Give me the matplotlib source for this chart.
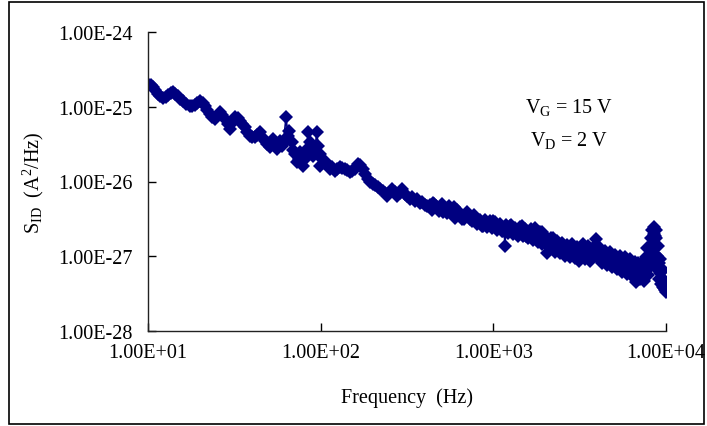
import matplotlib
matplotlib.use("Agg")
import matplotlib.pyplot as plt
from matplotlib.patches import Rectangle
from matplotlib.ticker import FixedLocator, NullLocator

plt.rcParams['font.family'] = ['Liberation Serif', 'DejaVu Serif']
plt.rcParams['mathtext.fontset'] = 'custom'
plt.rcParams['mathtext.rm'] = 'Liberation Serif'
plt.rcParams['mathtext.it'] = 'Liberation Serif:italic'

# ---- data: frequency (Hz) and S_ID (units of 1e-27 A^2/Hz) ----
freq_low = [10.0, 10.7, 11.4, 12.2, 13.1, 14.0, 14.9, 16.0, 17.5, 18.7,
            20.0, 21.4, 22.8, 24.4, 26.1, 27.9, 29.8, 31.9, 34.1, 36.4,
            38.9, 41.6, 44.5, 47.5, 50.8, 53.0, 55.8, 58.0, 59.6, 63.0,
            64.6, 65.5, 68.2, 69.2, 72.9, 75.9, 78.9, 83.3, 84.4, 86.6,
            90.2, 95.1, 96.5, 99.0, 99.5, 105.8, 113, 121, 129, 138,
            148, 158, 164, 175, 187, 200, 214, 229, 242, 259,
            277, 296, 316, 338, 361, 386, 413]
sid_low = [201, 184, 148, 131, 144, 157, 139, 119, 102, 106,
           119, 102, 80, 69, 85, 69, 50, 73, 64, 54,
           41, 39, 46, 35, 29, 37, 27, 35, 30, 73,
           41, 47, 34, 26, 18, 25, 16, 27, 46, 34,
           22, 46, 30, 23, 16, 19, 14.7, 13.8, 15.6, 14.7,
           13.4, 14.7, 17.1, 14.7, 10.8, 9.3, 8.4, 7.5, 6.4, 7.9,
           6.4, 7.9, 6.4, 6.2, 5.8, 5.3, 4.7]

freq_low2 = [10.34, 11.05, 11.81, 12.63, 13.5, 14.42, 15.42, 16.7, 18.1, 19.3,
             20.7, 22.1, 23.6, 25.2, 27.0, 28.9, 30.8, 33.0, 35.2, 37.6,
             40.2, 43.0, 46.0, 49.1, 51.9, 54.4, 56.9, 60.8, 71.0, 74.9,
             81.0, 88.1, 92.5, 102, 109, 117, 124, 133, 142, 152,
             169, 180, 193, 207, 221, 236, 252, 270, 287, 306,
             328, 352, 376, 402]
sid_low2 = [195, 167, 139, 135, 152, 148, 127, 109, 102, 112,
            112, 90.6, 73, 75, 77.6, 58.7, 60.6, 70.6, 58.7, 46,
            39, 41.9, 39, 31.8, 32.7, 31.8, 30, 31.8, 23, 20,
            20, 27, 27, 20, 17.1, 15.6, 14.7, 15.1, 14.2, 13.8,
            16.4, 12.6, 9.85, 8.9, 7.9, 7.0, 7.2, 7.2, 7.0, 6.8,
            5.8, 5.46, 5.14, 4.86]

freq_high = [430, 441, 453, 472, 485, 504, 518, 539, 554, 576,
             592, 600, 616, 641, 659, 686, 704, 733, 752, 783,
             804, 837, 860, 895, 919, 956, 982, 1022, 1050, 1093,
             1122, 1168, 1184, 1216, 1249, 1300, 1335, 1389, 1427, 1485,
             1526, 1588, 1631, 1697, 1743, 1814, 1863, 1914, 1991, 2046,
             2073, 2129, 2216, 2276, 2338, 2433, 2499, 2600, 2671, 2780,
             2855, 2972, 3052, 3135, 3177, 3306, 3396, 3534, 3630, 3778,
             3932, 4037, 4147, 4259, 4433, 4553, 4738, 4867, 5066, 5203,
             5414, 5561, 5788, 5944, 6187, 6353, 6612, 6701, 6882, 7068,
             7260, 7456, 7659, 7762, 7865, 8079, 8187, 8298, 8410, 8523,
             8637, 8750, 8870, 8988, 9109, 9231, 9355, 9480, 9607, 9736,
             9867, 10000]
sid_high = [4.86, 4.18, 5.0, 4.44, 4.06, 5.0, 4.31, 3.82, 4.72, 4.06,
            3.60, 3.29, 4.18, 3.60, 3.19, 3.49, 3.94, 3.19, 2.92, 3.39,
            2.67, 3.10, 2.51, 3.01, 2.44, 2.92, 2.36, 2.83, 2.23, 2.67,
            2.16, 1.38, 2.59, 2.03, 2.51, 1.97, 2.36, 1.86, 2.44, 1.86,
            2.29, 1.75, 2.16, 1.65, 2.36, 1.55, 2.10, 1.46, 1.86, 1.09,
            1.55, 1.30, 1.75, 1.15, 1.60, 1.09, 1.51, 1.02, 1.42, 0.963,
            1.46, 0.935, 1.34, 0.855, 1.22, 1.46, 0.907, 1.38, 0.855, 1.30,
            1.70, 1.09, 1.30, 0.806, 1.18, 0.759, 1.15, 0.715, 1.05, 0.674,
            1.02, 0.616, 0.963, 0.581, 0.907, 0.548, 0.831, 0.458, 0.806, 0.500,
            0.759, 0.472, 0.907, 1.30, 0.564, 1.02, 1.75, 2.23, 0.907, 2.44,
            1.30, 2.23, 0.674, 1.38, 0.500, 0.907, 0.431, 0.674, 0.383, 0.472,
            0.350, 0.330]

freq_high2 = [436, 466, 498, 532, 569, 608, 650, 695, 742, 794,
              848, 907, 969, 1036, 1107, 1153, 1232, 1317, 1408, 1505,
              1609, 1720, 1838, 1965, 2101, 2245, 2400, 2566, 2743, 2932,
              3093, 3262, 3487, 3727, 3984, 4202, 4493, 4802, 5133, 5487,
              5865, 6269, 6525, 6975, 7357, 7556, 7968, 8450, 8680, 8920,
              9160, 9400, 9650, 9900]
sid_high2 = [4.58, 4.72, 4.44, 4.31, 4.18, 3.82, 3.49, 3.60, 3.29, 3.01,
             2.83, 2.67, 2.67, 2.51, 2.44, 2.29, 2.23, 2.23, 2.16, 2.03,
             1.97, 1.92, 1.81, 1.70, 1.46, 1.42, 1.30, 1.26, 1.18, 1.15,
             1.09, 1.15, 1.12, 1.05, 1.30, 1.02, 0.935, 0.907, 0.855, 0.782,
             0.759, 0.715, 0.674, 0.635, 0.598, 0.715, 0.759, 1.51, 1.86, 1.02,
             0.806, 0.616, 0.500, 0.419]

freq_high3 = [450, 514, 588, 672, 768, 877, 1002, 1145, 1274, 1362,
              1456, 1556, 1663, 1778, 1901, 2032, 2172, 2322, 2482, 2653,
              2836, 3031, 3240, 3464, 3703, 3958, 4345, 4644, 4966, 5307,
              5673, 6063, 6481, 6838, 7211, 7455, 7709, 7918, 8131, 8353,
              8577, 8810, 9047, 9292, 9543, 9800]
sid_high3 = [5.14, 3.88, 4.58, 3.19, 3.60, 2.51, 2.92, 2.16, 2.63, 2.03,
             2.51, 1.89, 2.29, 1.73, 2.10, 1.51, 1.75, 1.22, 1.46, 1.09,
             1.34, 1.02, 1.28, 0.99, 1.26, 1.02, 1.12, 0.831, 0.99, 0.737,
             0.894, 0.654, 0.785, 0.581, 0.705, 0.548, 0.963, 0.674, 1.38, 1.75,
             1.97, 1.75, 0.715, 0.598, 0.472, 0.372]

x_ticks = [1e1, 1e2, 1e3, 1e4]
x_tick_labels = ["1.00E+01", "1.00E+02", "1.00E+03", "1.00E+04"]
y_ticks = [1e-28, 1e-27, 1e-26, 1e-25, 1e-24]
y_tick_labels = ["1.00E-28", "1.00E-27", "1.00E-26", "1.00E-25", "1.00E-24"]
unit = 1e-27

pairs = sorted(zip(freq_low + freq_low2 + freq_high + freq_high2 + freq_high3,
                   sid_low + sid_low2 + sid_high + sid_high2 + sid_high3))
freq = [p[0] for p in pairs]
sid = [p[1] * unit for p in pairs]

W, H = 707, 427
fig = plt.figure(figsize=(W / 100, H / 100), dpi=100)
ax = fig.add_axes([148 / W, 1 - 332 / H, (666 - 148) / W, (332 - 33) / H])

navy = '#000080'
ax.plot(freq, sid, color=navy, lw=1.2, marker='D', ms=6.9, mew=0, mfc=navy)

ax.set_xscale('log')
ax.set_yscale('log')
ax.set_xlim(1e1, 1e4)
ax.set_ylim(1e-28, 1e-24)
ax.xaxis.set_major_locator(FixedLocator(x_ticks))
ax.yaxis.set_major_locator(FixedLocator(y_ticks))
ax.xaxis.set_minor_locator(NullLocator())
ax.yaxis.set_minor_locator(NullLocator())
ax.set_xticklabels(x_tick_labels)
ax.set_yticklabels(y_tick_labels)
ax.tick_params(axis='both', direction='in', length=6, width=1.0, labelsize=14.5, colors='black')
ax.tick_params(axis='x', pad=9)
ax.tick_params(axis='y', pad=11)
for s in ['top', 'right']:
    ax.spines[s].set_visible(False)
for s in ['left', 'bottom']:
    ax.spines[s].set_linewidth(1.0)
    ax.spines[s].set_color('#222222')

ax.set_xlabel("Frequency  (Hz)", fontsize=14.5, labelpad=18)
fig.text(33 / W, 1 - 183 / H, r"S$_{\mathrm{ID}}$  (A$^{2}$/Hz)", rotation=90,
         ha='center', va='center', fontsize=14.5)

fig.text(569 / W, 1 - 108 / H, r"V$_{\mathrm{G}}$ = 15 V", ha='center', va='center', fontsize=14.5)
fig.text(569 / W, 1 - 141 / H, r"V$_{\mathrm{D}}$ = 2 V", ha='center', va='center', fontsize=14.5)

# outer frame
fig.patches.append(Rectangle((9 / W, 1 - 425 / H), (704 - 9) / W, (425 - 3) / H,
                             transform=fig.transFigure, fill=False, ec='black', lw=1.2))

fig.savefig("out.png", dpi=100)
